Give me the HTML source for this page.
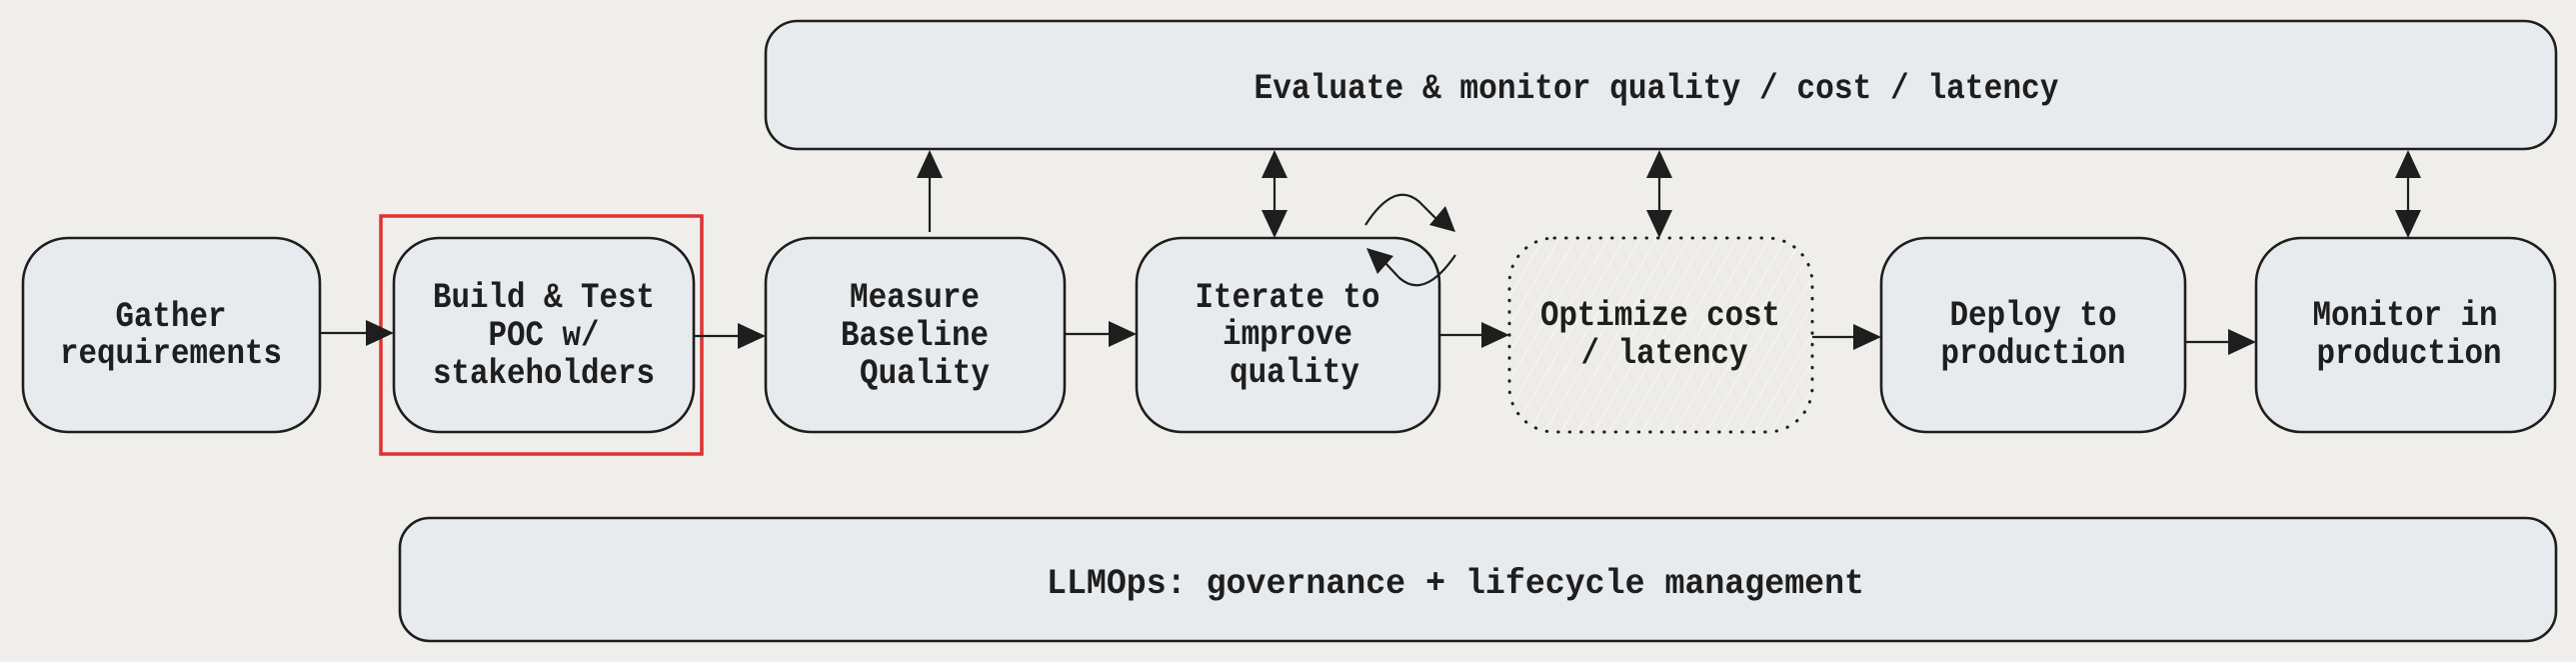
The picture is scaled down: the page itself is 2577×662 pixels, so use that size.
<!DOCTYPE html>
<html><head><meta charset="utf-8"><style>
html,body{margin:0;padding:0;background:#efeeeb;}
svg{display:block}
text{font-family:"Liberation Mono",monospace;font-size:35px;font-weight:bold;fill:#1e1e1e;text-anchor:middle}
</style></head><body>
<svg width="2577" height="662" viewBox="0 0 2577 662" xmlns="http://www.w3.org/2000/svg">
<defs>
<pattern id="h" width="14" height="14" patternUnits="userSpaceOnUse" patternTransform="rotate(30)">
<line x1="0" y1="0" x2="0" y2="14" stroke="#ffffff" stroke-width="1.5" opacity="0.8"/>
</pattern>
</defs>
<rect width="2577" height="662" fill="#efeeeb"/>
<g stroke="#1e1e1e" stroke-width="2.6" fill="#e8ebee">
<rect x="766" y="21" width="1791" height="128" rx="32"/>
<rect x="400" y="518" width="2157" height="123" rx="30"/>
<rect x="23" y="238" width="297" height="194" rx="45"/>
<rect x="394" y="238" width="300" height="194" rx="45"/>
<rect x="766" y="238" width="299" height="194" rx="45"/>
<rect x="1137" y="238" width="303" height="194" rx="45"/>
<rect x="1882" y="238" width="304" height="194" rx="45"/>
<rect x="2257" y="238" width="299" height="194" rx="45"/>
</g>
<rect x="1510" y="238" width="303" height="194" rx="45" fill="#eeece8"/>
<rect x="1510" y="238" width="303" height="194" rx="45" fill="url(#h)" stroke="#1e1e1e" stroke-width="3" stroke-dasharray="0.5 11" stroke-linecap="round"/>
<rect x="381" y="216" width="321" height="238" fill="none" stroke="#e03131" stroke-width="3.5"/>
<g stroke="#1e1e1e" stroke-width="2.2" fill="none">
<line x1="320" y1="333" x2="370" y2="333"/>
<line x1="694" y1="336" x2="742" y2="336"/>
<line x1="1065" y1="334" x2="1113" y2="334"/>
<line x1="1440" y1="335" x2="1486" y2="335"/>
<line x1="1813" y1="337" x2="1858" y2="337"/>
<line x1="2186" y1="342" x2="2233" y2="342"/>
<line x1="930" y1="232" x2="930" y2="175"/>
<line x1="1275" y1="175" x2="1275" y2="212"/>
<line x1="1660" y1="175" x2="1660" y2="212"/>
<line x1="2409" y1="175" x2="2409" y2="212"/>
<path d="M1366 225 Q1395 180 1420 202 L1440 222"/>
<path d="M1456 255 Q1425 300 1400 278 L1385 262"/>
</g>
<g fill="#1e1e1e">
<polygon points="394,333 366,320 366,346"/>
<polygon points="766,336 738,323 738,349"/>
<polygon points="1137,334 1109,321 1109,347"/>
<polygon points="1510,335 1482,322 1482,348"/>
<polygon points="1882,337 1854,324 1854,350"/>
<polygon points="2257,342 2229,329 2229,355"/>
<polygon points="930,150 917,178 943,178"/>
<polygon points="1275,150 1262,178 1288,178"/>
<polygon points="1275,238 1262,210 1288,210"/>
<polygon points="1660,150 1647,178 1673,178"/>
<polygon points="1660,238 1647,210 1673,210"/>
<polygon points="2409,150 2396,178 2422,178"/>
<polygon points="2409,238 2396,210 2422,210"/>
<polygon points="1456,232 1430,225 1446,206"/>
<polygon points="1367,248 1394,256 1378,274"/>
</g>
<g>
<text x="1657" y="98" textLength="805" lengthAdjust="spacingAndGlyphs">Evaluate &amp; monitor quality / cost / latency</text>
<text x="1456" y="593" textLength="818" lengthAdjust="spacingAndGlyphs">LLMOps: governance + lifecycle management</text>
<text x="171" y="326" textLength="111" lengthAdjust="spacingAndGlyphs">Gather</text>
<text x="171" y="363" textLength="222" lengthAdjust="spacingAndGlyphs">requirements</text>
<text x="544" y="307" textLength="222" lengthAdjust="spacingAndGlyphs">Build &amp; Test</text>
<text x="544" y="345" textLength="111" lengthAdjust="spacingAndGlyphs">POC w/</text>
<text x="544" y="383" textLength="222" lengthAdjust="spacingAndGlyphs">stakeholders</text>
<text x="915" y="307" textLength="130" lengthAdjust="spacingAndGlyphs">Measure</text>
<text x="915" y="345" textLength="148" lengthAdjust="spacingAndGlyphs">Baseline</text>
<text x="925" y="383" textLength="130" lengthAdjust="spacingAndGlyphs">Quality</text>
<text x="1288" y="307" textLength="185" lengthAdjust="spacingAndGlyphs">Iterate to</text>
<text x="1288" y="344" textLength="130" lengthAdjust="spacingAndGlyphs">improve</text>
<text x="1295" y="382" textLength="130" lengthAdjust="spacingAndGlyphs">quality</text>
<text x="1661" y="325" textLength="240" lengthAdjust="spacingAndGlyphs">Optimize cost</text>
<text x="1665" y="363" textLength="167" lengthAdjust="spacingAndGlyphs">/ latency</text>
<text x="2034" y="325" textLength="167" lengthAdjust="spacingAndGlyphs">Deploy to</text>
<text x="2034" y="363" textLength="185" lengthAdjust="spacingAndGlyphs">production</text>
<text x="2406" y="325" textLength="185" lengthAdjust="spacingAndGlyphs">Monitor in</text>
<text x="2410" y="363" textLength="185" lengthAdjust="spacingAndGlyphs">production</text>
</g>
</svg>
</body></html>
